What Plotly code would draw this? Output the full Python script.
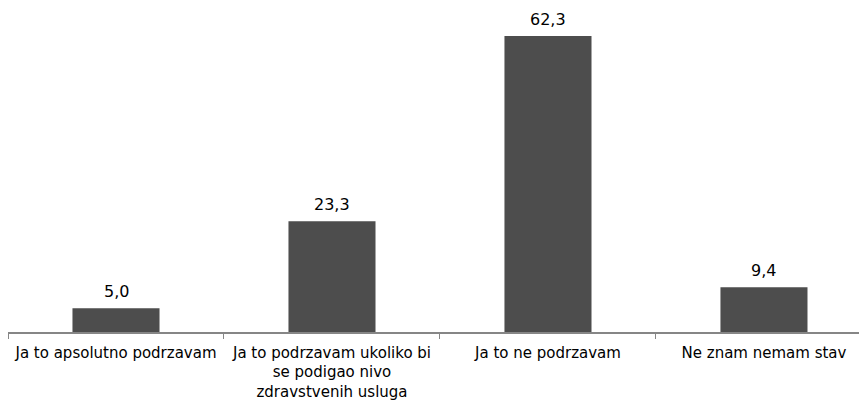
import plotly.graph_objects as go

categories = ["Ja to apsolutno podrzavam",
              "Ja to podrzavam ukoliko bi<br>se podigao nivo<br>zdravstvenih usluga",
              "Ja to ne podrzavam",
              "Ne znam nemam stav"]
values = [5.0, 23.3, 62.3, 9.4]
labels = ["5,0", "23,3", "62,3", "9,4"]

fig = go.Figure(go.Bar(
    x=categories, y=values,
    marker=dict(color="#4d4d4d", line=dict(width=0)),
    cliponaxis=False,
))
for c, v, t in zip(categories, values, labels):
    fig.add_annotation(x=c, y=v, text=t, showarrow=False, yanchor="bottom",
                       yshift=5, font=dict(size=16, color="#000000", family="DejaVu Sans"))
fig.update_layout(
    width=859, height=398,
    margin=dict(l=0, r=0, t=0, b=74),
    plot_bgcolor="white", paper_bgcolor="white",
    bargap=0.597,
    showlegend=False,
    font=dict(family="DejaVu Sans", size=15, color="#000000"),
)
fig.update_xaxes(showline=True, linecolor="#868686", linewidth=1.5,
                 ticks="outside", tickson="boundaries", ticklen=5,
                 tickcolor="#868686", tickfont=dict(size=15), tickangle=0,
                 ticklabelstandoff=6,
                 showgrid=False, range=[-0.5, 3.477], automargin=False)
fig.update_yaxes(range=[0, 68.2], visible=False, showgrid=False, automargin=False)
fig.write_html("out.html")
